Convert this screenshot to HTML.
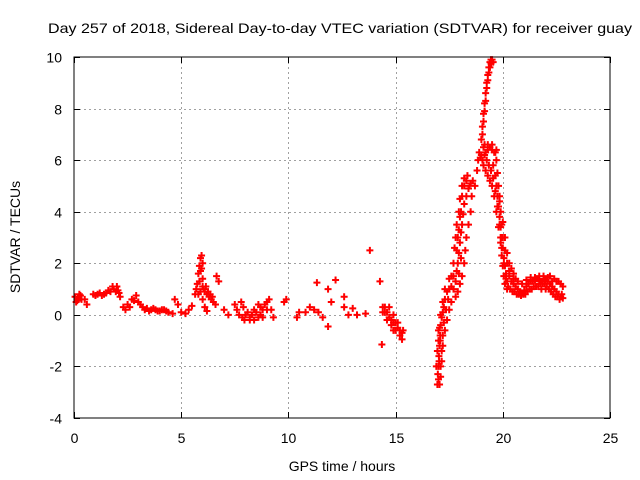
<!DOCTYPE html>
<html><head><meta charset="utf-8"><style>
html,body{margin:0;padding:0;background:#fff}
svg{display:block;font-family:"Liberation Sans",sans-serif}
</style></head><body>
<svg id="chart" width="640" height="480" viewBox="0 0 640 480">
<rect x="0" y="0" width="640" height="480" fill="#fff"/>
<text x="340" y="33" font-size="14" text-anchor="middle" textLength="584" lengthAdjust="spacingAndGlyphs">Day 257 of 2018, Sidereal Day-to-day VTEC variation (SDTVAR) for receiver guay</text>
<g id="grid"></g>
<g id="ticks"></g>
<g id="points"></g>
<rect x="74" y="57" width="536" height="361" fill="none" stroke="#000" stroke-width="1"/>
<text transform="translate(20,237) rotate(-90)" font-size="14" text-anchor="middle">SDTVAR / TECUs</text>
<text x="342" y="471" font-size="14" text-anchor="middle">GPS time / hours</text>
</svg>
<script>
const xTicks=[0,5,10,15,20,25];
const yTicks=[-4,-2,0,2,4,6,8,10];
const hours=[0.05,0.15,0.25,0.35,0.5,0.6,0.9,1.1,1.3,1.5,1.7,1.85,2.0,2.1,2.15,
2.3,2.5,2.7,2.9,3.0,3.2,3.4,3.6,3.8,4.0,4.2,4.4,4.6,4.7,4.85,5.0,5.2,5.35,5.5,5.65,
5.75,5.8,5.85,5.9,5.95,6.0,6.05,6.1,6.2,6.3,6.4,6.5,6.6,5.9,6.0,6.1,6.2,6.65,6.75,
7.0,7.2,7.5,7.8,7.9,8.0,8.2,8.4,8.6,8.8,9.0,9.1,8.7,9.2,9.3,9.8,9.9,
10.4,10.5,10.8,11.0,11.2,11.4,11.6,11.85,11.33,12.2,12.0,12.6,12.6,12.8,13.0,13.2,13.6,11.85,13.8,14.27,14.36,
14.4,14.5,14.6,14.8,15.0,15.2,15.3,14.7,14.9,15.1,14.9,14.4,
16.95,16.97,17.0,17.02,17.05,17.08,17.1,17.15,17.2,17.25,17.3,17.4,17.5,17.6,17.7,17.8,17.85,17.9,17.95,18.0,18.05,18.1,18.15,18.2,18.3,18.4,18.5,18.6,18.7,18.8,18.85,18.9,18.95,19.0,19.0,19.05,19.1,19.15,19.2,19.25,19.3,19.35,19.4,19.45,
17.1,17.15,17.2,17.25,17.35,17.45,17.7,17.85,17.9,17.95,18.0,18.05,18.1,18.2,18.3,18.05,17.95,
19.1,19.2,19.3,19.4,19.5,19.6,19.1,19.2,19.3,19.4,19.5,19.6,19.55,19.65,19.7,19.75,19.8,19.85,19.9,19.95,20.0,20.05,20.1,20.15,20.2,19.7,19.8,19.9,19.95,20.0,20.05,20.1,20.2,
20.3,20.4,20.5,20.6,20.7,20.8,20.9,21.0,21.1,21.2,21.3,21.4,21.5,21.6,21.7,21.8,21.9,22.0,22.1,22.2,22.3,22.4,22.5,22.6,22.7,22.8,22.8,22.6,22.4,22.2,22.0,21.8,20.4,20.5,20.6,19.85,20.0,20.1,20.2,20.3,
17.0,17.05,17.1,17.2,17.3,17.5,17.6,17.7,17.75,17.8,17.85,17.95,18.0,18.1,18.2,18.35,18.45,18.55,18.5,18.4,18.3,18.25,18.2,18.1,18.0,17.9,17.8,17.6,17.5,17.4,17.3,17.2,17.15,17.1,17.05,16.9,16.95,17.0,17.0,17.03,17.08,
19.05,19.15,19.25,19.35,19.45,19.55,19.65,19.75,19.85,19.9,19.95,20.05,20.15,20.25,20.35,20.45,20.55,20.65,20.75,20.85,20.95,21.05,21.15,21.25,21.35,21.45,21.55,21.65,21.75,21.85,21.95,22.05,22.15,22.25,22.35,22.45,22.55,22.65,22.75,22.7,22.5,22.3,22.1,21.9,21.7,21.5,21.3,21.1,20.9,20.7,20.5,20.3,20.2,20.1,20.0,19.95,19.9,19.85,19.8,19.75,19.7,19.65,19.7,19.5,19.3,19.15,
19.05,19.1,19.15,19.2,19.25,19.3,19.35,19.4,19.45,19.5,19.55,
0.1,0.2,0.3,1.0,1.2,1.4,1.6,1.8,1.95,2.05,2.4,2.6,2.8,3.1,3.3,3.5,3.7,3.9,4.1,4.3,
5.7,5.8,5.85,5.9,6.0,5.95,6.15,6.25,6.35,6.45,6.0,
7.6,7.7,7.85,7.95,8.1,8.3,8.5,8.7,8.8,8.9,9.0,8.4,8.6,8.2,
14.5,14.6,14.7,14.8,14.9,15.0,15.1,15.2,15.3,15.35];
const values=[0.7,0.55,0.8,0.6,0.6,0.4,0.8,0.8,0.75,0.85,0.9,1.0,1.1,0.85,0.7,
0.3,0.4,0.6,0.75,0.5,0.3,0.25,0.2,0.2,0.15,0.2,0.1,0.05,0.6,0.4,0.1,0.05,0.2,0.35,0.8,
1.2,1.6,1.9,2.2,1.8,1.4,1.0,0.9,0.8,0.7,0.6,0.5,0.4,0.9,0.6,0.3,0.15,1.5,1.3,
0.2,0.0,0.4,0.5,0.3,0.0,-0.1,-0.2,-0.1,0.2,0.5,0.6,0.3,0.2,-0.1,0.5,0.6,
-0.1,0.1,0.1,0.3,0.2,0.1,-0.1,-0.45,1.25,1.35,0.5,0.7,0.3,0.0,0.25,0.0,0.05,1.0,2.5,1.3,-1.15,
0.3,0.1,-0.2,-0.4,-0.6,-0.8,-0.95,0.3,0.0,-0.3,-0.6,0.1,
-2.7,-2.3,-2.0,-1.6,-1.2,-0.8,-0.4,-0.1,0.1,0.3,0.6,0.9,1.0,1.1,1.0,1.3,1.7,2.0,2.4,2.8,3.2,3.5,3.9,4.3,4.6,4.9,5.1,5.2,5.0,5.6,6.0,6.3,6.1,6.2,6.8,7.3,7.8,8.2,8.6,9.0,9.3,9.6,9.8,9.9,
-2.0,-1.4,-0.8,-0.3,0.2,0.6,1.5,2.5,3.0,3.3,3.8,4.0,4.6,5.0,5.2,2.2,1.6,
6.5,6.3,6.4,6.5,6.4,6.3,5.8,5.6,5.4,5.2,5.0,4.6,5.8,5.4,5.0,4.6,4.2,3.8,3.4,3.0,2.6,2.2,1.9,1.6,1.3,4.0,3.4,2.8,2.3,1.9,1.5,1.2,1.0,
1.5,1.3,1.2,1.1,1.0,0.9,0.85,0.95,1.1,1.2,1.3,1.3,1.35,1.4,1.35,1.3,1.4,1.35,1.3,1.2,1.1,1.0,0.9,0.8,0.7,0.65,1.1,1.3,1.4,1.5,1.0,1.0,1.8,1.6,1.4,4.4,3.6,3.0,2.4,2.0,
-1.0,-0.5,0.0,0.5,1.0,1.4,1.5,2.0,2.6,3.0,3.5,4.0,4.5,5.0,5.3,5.4,5.0,4.6,4.0,3.5,3.0,2.5,2.0,1.5,1.2,0.9,0.7,0.5,0.2,-0.2,-0.6,-1.2,-1.8,-2.4,-2.7,-2.0,-1.4,-0.6,-2.5,-1.8,-1.0,
6.0,6.2,6.0,5.8,5.6,5.3,4.8,4.2,3.5,3.0,2.6,2.0,1.4,1.1,1.0,0.9,0.9,0.8,0.8,0.75,0.8,0.8,0.9,1.0,1.0,1.1,1.1,1.1,1.2,1.2,1.2,1.1,1.0,0.9,0.8,0.7,0.7,0.6,0.8,1.2,1.3,1.3,1.45,1.5,1.5,1.45,1.45,1.35,1.2,1.3,1.4,1.7,2.0,2.5,3.0,3.5,4.0,4.6,5.0,5.5,6.0,6.3,6.4,6.6,6.6,6.6,
7.0,7.5,7.9,8.3,8.8,9.1,9.4,9.6,9.75,9.9,9.8,
0.5,0.65,0.75,0.75,0.85,0.8,0.95,1.1,0.9,0.95,0.2,0.3,0.55,0.4,0.2,0.15,0.25,0.15,0.2,0.15,
1.0,0.8,1.3,1.7,2.0,2.3,1.1,0.9,0.8,0.7,1.1,
0.2,0.0,-0.1,-0.2,0.1,0.0,0.1,0.0,-0.1,0.4,0.2,0.2,0.4,-0.2,
0.3,0.1,-0.1,-0.2,-0.3,-0.3,-0.5,-0.6,-0.7,-0.6];
const NS='http://www.w3.org/2000/svg';
const L=74,R=610,T=57,B=418,X0=0,X1=25,Y0=-4,Y1=10;
function sx(h){return L+(h-X0)/(X1-X0)*(R-L);}
function sy(v){return B-(v-Y0)/(Y1-Y0)*(B-T);}
const grid=document.getElementById('grid'),ticks=document.getElementById('ticks'),pts=document.getElementById('points');
function line(g,x1,y1,x2,y2,st,dash){const l=document.createElementNS(NS,'line');l.setAttribute('x1',x1);l.setAttribute('y1',y1);l.setAttribute('x2',x2);l.setAttribute('y2',y2);l.setAttribute('stroke',st);if(dash)l.setAttribute('stroke-dasharray',dash);g.appendChild(l);return l;}
xTicks.forEach(t=>{const x=Math.round(sx(t))+0.5;
 if(t>X0&&t<X1){const g=line(grid,x,T,x,B,'#a0a0a0','2,3');
 
 }
 line(ticks,x,B,x,B-6,'#000');line(ticks,x,T,x,T+6,'#000');
 const tx=document.createElementNS(NS,'text');tx.setAttribute('x',x);tx.setAttribute('y',B+25);tx.setAttribute('font-size','14');tx.setAttribute('text-anchor','middle');tx.textContent=t;
 
 
 ticks.appendChild(tx);});
yTicks.forEach(t=>{const y=Math.round(sy(t))+0.5;
 if(t>Y0&&t<Y1){const g=line(grid,L,y,R,y,'#a0a0a0','2,3');
 
 }
 line(ticks,L,y,L+6,y,'#000');line(ticks,R,y,R-6,y,'#000');
 const tx=document.createElementNS(NS,'text');tx.setAttribute('x',L-12);tx.setAttribute('y',y+5);tx.setAttribute('font-size','14');tx.setAttribute('text-anchor','end');tx.textContent=t;
 
 
 ticks.appendChild(tx);});
let d='';
const n=Math.min(hours.length,values.length);
for(let i=0;i<n;i++){const x=sx(hours[i]),y=sy(values[i]);
 d+='M'+(x-3.5)+' '+y+'h7M'+x+' '+(y-3.5)+'v7';}
const p=document.createElementNS(NS,'path');p.setAttribute('d',d);p.setAttribute('stroke','#ff0000');p.setAttribute('stroke-width','2');p.setAttribute('fill','none');


pts.appendChild(p);
</script>
</body></html>
